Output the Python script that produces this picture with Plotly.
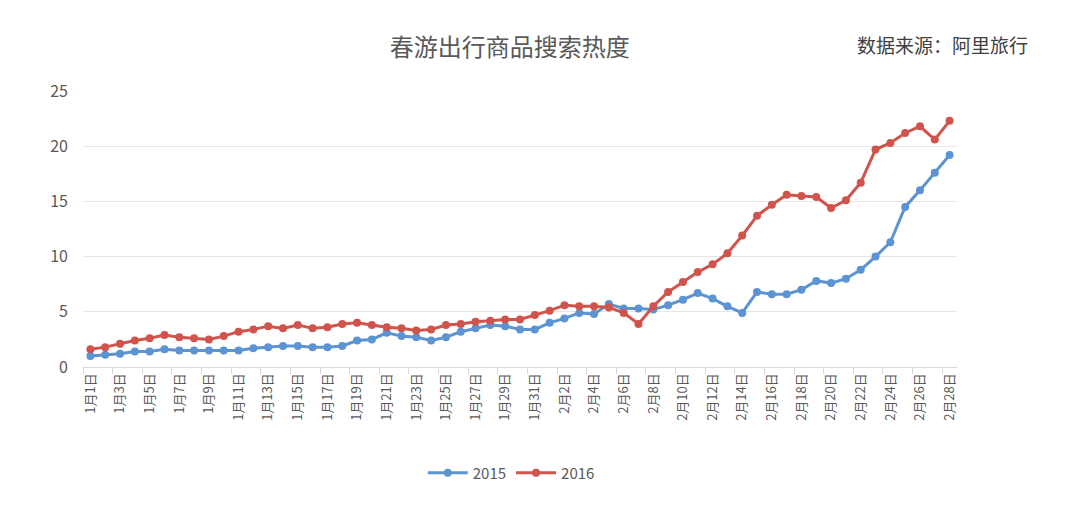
import plotly.graph_objects as go

dates = [f"1月{d}日" for d in range(1, 32)] + [f"2月{d}日" for d in range(1, 29)]

s2015 = [1.0, 1.1, 1.2, 1.4, 1.4, 1.6, 1.5, 1.5, 1.5, 1.5,
         1.5, 1.7, 1.8, 1.9, 1.9, 1.8, 1.8, 1.9, 2.4, 2.5,
         3.1, 2.8, 2.7, 2.4, 2.7, 3.2, 3.5, 3.8, 3.7, 3.4,
         3.4, 4.0, 4.4, 4.9, 4.8, 5.7, 5.3, 5.3, 5.2, 5.6,
         6.1, 6.7, 6.2, 5.5, 4.9, 6.8, 6.6, 6.6, 7.0, 7.8,
         7.6, 8.0, 8.8, 10.0, 11.3, 14.5, 16.0, 17.6, 19.2]

s2016 = [1.6, 1.8, 2.1, 2.4, 2.6, 2.9, 2.7, 2.6, 2.5, 2.8,
         3.2, 3.4, 3.7, 3.5, 3.8, 3.5, 3.6, 3.9, 4.0, 3.8,
         3.6, 3.5, 3.3, 3.4, 3.8, 3.9, 4.1, 4.2, 4.3, 4.3,
         4.7, 5.1, 5.6, 5.5, 5.5, 5.4, 4.9, 3.9, 5.5, 6.8,
         7.7, 8.6, 9.3, 10.3, 11.9, 13.7, 14.7, 15.6, 15.5, 15.4,
         14.4, 15.1, 16.7, 19.7, 20.3, 21.2, 21.8, 20.6, 22.3]

series_names = ["2015", "2016"]
colors = ["#5B93D3", "#D0544C"]

FONT = "Noto Sans CJK SC"

fig = go.Figure()
for name, vals, col in zip(series_names, [s2015, s2016], colors):
    fig.add_trace(go.Scatter(
        x=dates, y=vals, name=name, mode="lines+markers",
        line=dict(color=col, width=3),
        marker=dict(color=col, size=8),
    ))

fig.update_layout(
    width=1080, height=508,
    margin=dict(l=83, r=123, t=91, b=141),
    paper_bgcolor="white", plot_bgcolor="white",
    font=dict(family=FONT, color="#595959"),
    title=dict(text="春游出行商品搜索热度", x=0.472, xanchor="center",
               y=1 - 48 / 508, yanchor="middle",
               font=dict(size=24, color="#595959", family=FONT)),
    showlegend=True,
    legend=dict(orientation="h", x=0.49, xanchor="center", y=-0.384, yanchor="middle",
                font=dict(size=15, color="#595959", family=FONT),
                itemwidth=40),
    annotations=[dict(text="数据来源：阿里旅行", xref="paper", yref="paper",
                      x=1.083, xanchor="right", y=1.167, yanchor="middle",
                      showarrow=False, font=dict(size=19, color="#404040", family=FONT))],
)

fig.update_xaxes(
    type="category", range=[-0.5, 58.5],
    tickmode="linear", tick0=0, dtick=2,
    tickson="boundaries", ticks="outside", ticklen=6, tickcolor="#D9D9D9",
    showgrid=False, showline=True, linecolor="#D9D9D9", linewidth=1,
    tickangle=-90, tickfont=dict(size=13, color="#595959", family=FONT),
    zeroline=False,
)
fig.update_yaxes(
    range=[0, 25], tickmode="linear", tick0=0, dtick=5,
    showgrid=True, gridcolor="#E6E6E6", gridwidth=1,
    zeroline=False, showline=False, ticks="",
    ticklabelstandoff=14,
    tickfont=dict(size=16, color="#595959", family=FONT),
)

fig.write_html("out.html")
